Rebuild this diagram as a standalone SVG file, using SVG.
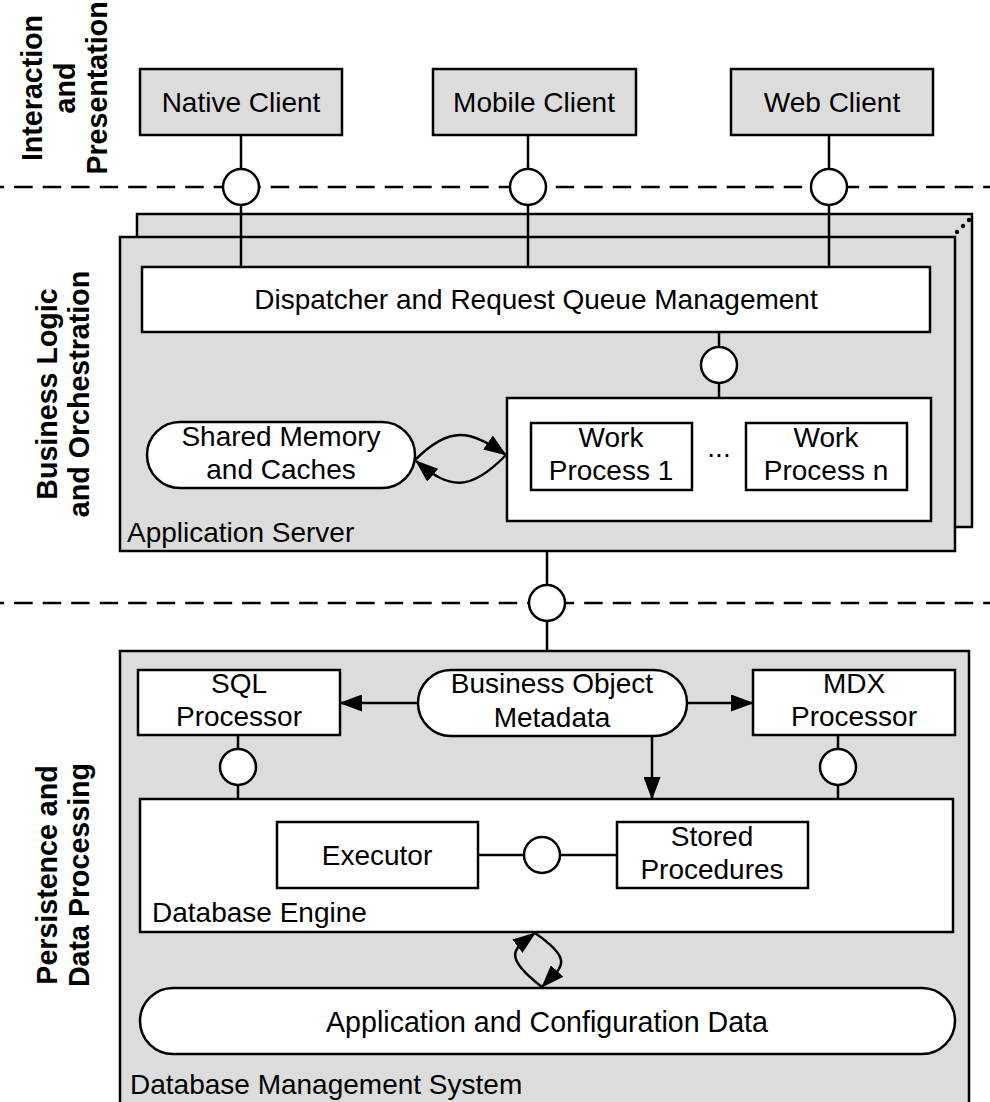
<svg xmlns="http://www.w3.org/2000/svg" width="990" height="1102" viewBox="0 0 990 1102">
<defs>
<style>
.box{fill:#dcdcdc;stroke:#000;stroke-width:2.5}
.wbox{fill:#fff;stroke:#000;stroke-width:2.5}
.ln{fill:none;stroke:#000;stroke-width:2.5}
.dash{fill:none;stroke:#000;stroke-width:2.5;stroke-dasharray:18.5 10;stroke-dashoffset:14.3}
.ifc{fill:#fff;stroke:#000;stroke-width:2.5}
text{font-family:"Liberation Sans",Arial,Helvetica,sans-serif;font-size:28px;fill:#000}
.c{text-anchor:middle}
.lbl{font-weight:bold;font-size:28.6px;text-anchor:middle}
</style>
<marker id="ah" viewBox="0 0 23 17" refX="22" refY="8.5" markerWidth="23" markerHeight="17" markerUnits="userSpaceOnUse" orient="auto">
<path d="M0,0 L23,8.5 L0,17 z" fill="#000"/>
</marker>
</defs>

<g id="layer-labels">
<text class="lbl" transform="translate(42,88) rotate(-90)">Interaction</text>
<text class="lbl" transform="translate(75,88) rotate(-90)">and</text>
<text class="lbl" transform="translate(107,88) rotate(-90)">Presentation</text>
<text class="lbl" transform="translate(57,394) rotate(-90)">Business Logic</text>
<text class="lbl" transform="translate(89,394) rotate(-90)">and Orchestration</text>
<text class="lbl" transform="translate(57,875) rotate(-90)">Persistence and</text>
<text class="lbl" transform="translate(89,875) rotate(-90)">Data Processing</text>
</g>

<g id="separators">
<line class="dash" x1="0" y1="187" x2="990" y2="187"/>
<line class="dash" x1="0" y1="603" x2="990" y2="603"/>
</g>

<g id="native-client">
<rect class="box" x="140" y="69" width="202" height="66"/>
<text class="c" x="241" y="112">Native Client</text>
</g>
<g id="mobile-client">
<rect class="box" x="433" y="69" width="203" height="66"/>
<text class="c" x="534" y="112">Mobile Client</text>
</g>
<g id="web-client">
<rect class="box" x="731" y="69" width="202" height="66"/>
<text class="c" x="832" y="112">Web Client</text>
</g>

<g id="application-server">
<rect class="box" x="137" y="214" width="835" height="313"/>
<rect class="box" x="120" y="237" width="835" height="314"/>
<circle cx="957" cy="232" r="2.2" fill="#000"/>
<circle cx="963" cy="226" r="2.2" fill="#000"/>
<circle cx="969" cy="220" r="2.2" fill="#000"/>
<text x="127" y="542">Application Server</text>
</g>

<g id="dispatcher">
<rect class="wbox" x="142" y="267" width="788" height="65"/>
<text class="c" x="536" y="309">Dispatcher and Request Queue Management</text>
</g>

<g id="work-processes">
<rect class="wbox" x="507" y="398" width="424" height="123"/>
<text class="c" x="719" y="457">...</text>
</g>
<g id="work-process-1">
<rect class="wbox" x="531" y="423" width="161" height="67"/>
<text class="c" x="611" y="447">Work</text>
<text class="c" x="611" y="480">Process 1</text>
</g>
<g id="work-process-n">
<rect class="wbox" x="746" y="423" width="161" height="67"/>
<text class="c" x="826" y="447">Work</text>
<text class="c" x="826" y="480">Process n</text>
</g>

<g id="shared-memory">
<rect class="wbox" x="147" y="422" width="268" height="66" rx="33" ry="33"/>
<text class="c" x="281" y="446">Shared Memory</text>
<text class="c" x="281" y="479">and Caches</text>
</g>

<g id="dbms">
<rect class="box" x="120" y="651" width="849" height="460"/>
<text x="130" y="1094">Database Management System</text>
</g>

<g id="sql-processor">
<rect class="wbox" x="138" y="670" width="202" height="65"/>
<text class="c" x="239" y="693">SQL</text>
<text class="c" x="239" y="726">Processor</text>
</g>
<g id="business-object-metadata">
<rect class="wbox" x="418" y="670" width="269" height="66" rx="33" ry="33"/>
<text class="c" x="552" y="693">Business Object</text>
<text class="c" x="552" y="727">Metadata</text>
</g>
<g id="mdx-processor">
<rect class="wbox" x="753" y="670" width="202" height="65"/>
<text class="c" x="854" y="693">MDX</text>
<text class="c" x="854" y="726">Processor</text>
</g>

<g id="database-engine">
<rect class="wbox" x="140" y="799" width="813" height="133"/>
<text x="152" y="922">Database Engine</text>
</g>
<g id="executor">
<rect class="wbox" x="277" y="822" width="201" height="66"/>
<text class="c" x="377" y="865">Executor</text>
</g>
<g id="stored-procedures">
<rect class="wbox" x="617" y="822" width="191" height="66"/>
<text class="c" x="712" y="846">Stored</text>
<text class="c" x="712" y="879">Procedures</text>
</g>

<g id="app-config-data">
<rect class="wbox" x="140" y="988" width="815" height="66" rx="33" ry="33"/>
<text class="c" x="547" y="1032" style="font-size:28.6px">Application and Configuration Data</text>
</g>

<g id="connectors">
<line class="ln" x1="241" y1="135" x2="241" y2="267"/>
<line class="ln" x1="528" y1="135" x2="528" y2="267"/>
<line class="ln" x1="829" y1="135" x2="829" y2="267"/>
<circle class="ifc" cx="241" cy="187" r="18"/>
<circle class="ifc" cx="528" cy="187" r="18"/>
<circle class="ifc" cx="829" cy="187" r="18"/>

<line class="ln" x1="719" y1="332" x2="719" y2="398"/>
<circle class="ifc" cx="719" cy="365" r="18"/>

<path class="ln" d="M415,460 C450,425 470,430 506,455" marker-end="url(#ah)"/>
<path class="ln" d="M506,455 C470,492 450,490 416,461" marker-end="url(#ah)"/>

<line class="ln" x1="547" y1="551" x2="547" y2="651"/>
<circle class="ifc" cx="547" cy="603" r="18"/>

<line class="ln" x1="418" y1="703" x2="340" y2="703" marker-end="url(#ah)"/>
<line class="ln" x1="687" y1="703" x2="753" y2="703" marker-end="url(#ah)"/>
<line class="ln" x1="652" y1="736" x2="652" y2="799" marker-end="url(#ah)"/>

<line class="ln" x1="238" y1="735" x2="238" y2="799"/>
<circle class="ifc" cx="238" cy="767" r="18"/>
<line class="ln" x1="838" y1="735" x2="838" y2="799"/>
<circle class="ifc" cx="838" cy="767" r="18"/>

<line class="ln" x1="478" y1="855" x2="617" y2="855"/>
<circle class="ifc" cx="542" cy="855" r="18"/>

<path class="ln" d="M542,987 C500,955 515,948 535,933" marker-end="url(#ah)"/>
<path class="ln" d="M535,933 C577,962 560,968 542,987" marker-end="url(#ah)"/>
</g>
</svg>
